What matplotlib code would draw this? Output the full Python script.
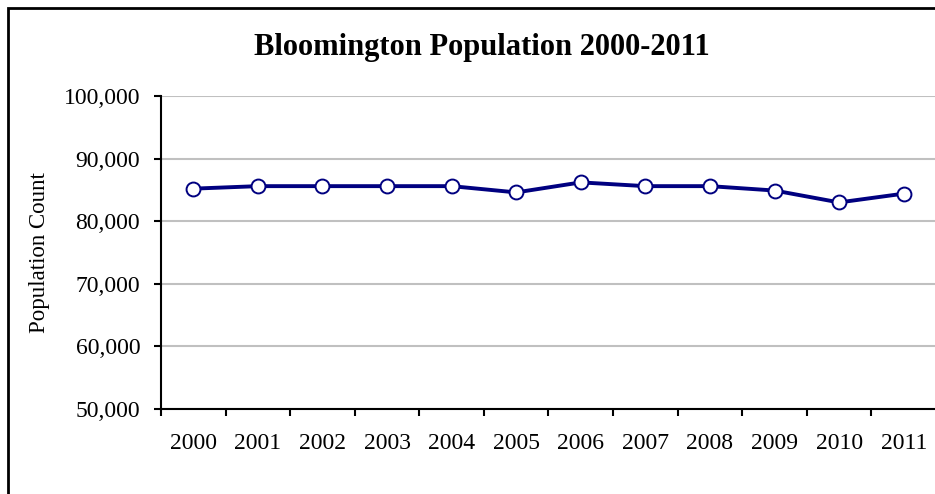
import matplotlib.pyplot as plt
from matplotlib.patches import Rectangle
from matplotlib.ticker import FuncFormatter, MultipleLocator

years = ["2000", "2001", "2002", "2003", "2004", "2005",
         "2006", "2007", "2008", "2009", "2010", "2011"]
population = [85200, 85600, 85600, 85600, 85600, 84600,
              86200, 85600, 85600, 84900, 83000, 84400]

plt.rcParams["font.family"] = ["Liberation Serif", "DejaVu Serif"]

fig = plt.figure(figsize=(9.35, 4.94), dpi=100)
ax = fig.add_axes([161 / 935, 85 / 494, 775 / 935, 313 / 494])

x = list(range(len(years)))
ax.plot(x, population, color="#000080", linewidth=2.8, marker="o",
        markersize=10, markerfacecolor="white", markeredgecolor="#000080",
        markeredgewidth=1.4, zorder=3)

ax.set_xlim(-0.5, len(years) - 0.5)
ax.set_ylim(50000, 100000)
ax.yaxis.set_major_locator(MultipleLocator(10000))
ax.yaxis.set_major_formatter(FuncFormatter(lambda v, p: f"{int(v):,}"))
ax.grid(axis="y", color="#c0c0c0", linewidth=1.5)
ax.set_axisbelow(True)

# tick marks sit between the categories, labels centred under each year
ax.set_xticks([i - 0.5 for i in x])
ax.set_xticklabels([])
ax.set_xticks(x, minor=True)
ax.set_xticklabels(years, minor=True)
ax.tick_params(axis="x", which="minor", length=0, pad=17, labelsize=17)
ax.tick_params(axis="x", which="major", length=5, width=1.5, direction="out")
ax.tick_params(axis="y", length=5, width=1.5, direction="out", pad=10, labelsize=17)

for side in ("top", "right"):
    ax.spines[side].set_visible(False)
for side in ("left", "bottom"):
    ax.spines[side].set_linewidth(1.5)

ax.set_ylabel("Population Count", fontsize=16.5, labelpad=10)
fig.text(482 / 935, 1 - 48 / 494, "Bloomington Population 2000-2011",
         ha="center", va="center", fontsize=22, fontweight="bold")

# outer chart border
fig.patches.append(Rectangle((8 / 935, -0.1), 1.2, 1.1 - 8 / 494 + 0.001,
                             transform=fig.transFigure, fill=False,
                             edgecolor="black", linewidth=2))

fig.savefig("out.png", dpi=100)
